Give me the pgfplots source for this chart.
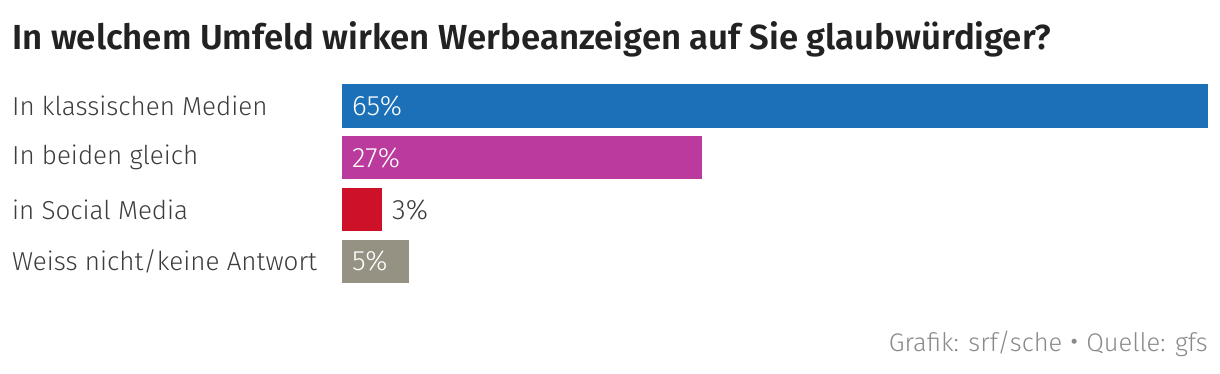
\documentclass[border=0pt]{standalone}
\usepackage{fontspec}
\setmainfont{Fira Sans}[UprightFont=* Light, BoldFont=* SemiBold]
\usepackage{pgfplots}
\pgfplotsset{compat=1.18}
\definecolor{cblue}{HTML}{1B70B7}
\definecolor{cmag}{HTML}{BB3A9D}
\definecolor{cred}{HTML}{CC1128}
\definecolor{cgray}{HTML}{959183}
\definecolor{ctext}{HTML}{3C3C3C}
\definecolor{cfoot}{HTML}{8A8A8A}
\definecolor{ctitle}{HTML}{222222}
\begin{document}
\begin{tikzpicture}[x=1pt,y=1pt]
\path[use as bounding box] (0,0) rectangle (1220,374);
\node[anchor=base west, inner sep=0, text=ctitle, font=\fontsize{34.8}{40}\selectfont\bfseries] at (12,324) {In welchem Umfeld wirken Werbeanzeigen auf Sie glaubwürdiger?};
\node[anchor=base east, inner sep=0, text=cfoot, font=\fontsize{25.5}{30}\selectfont] at (1208,22) {Grafik: srf/sche {\fontsize{34}{30}\selectfont\raisebox{-1.5pt}{•}} Quelle: gfs};
\begin{axis}[
  at={(342pt,86.7pt)}, anchor=south west,
  scale only axis, width=866pt, height=207.2pt,
  xmin=0, xmax=65, ymin=-0.5, ymax=3.5, y dir=reverse,
  xbar, bar width=43pt, bar shift=0pt,
  axis line style={draw=none}, major tick length=0pt,
  xtick=\empty, ytick={0,1,2,3},
  yticklabels={In klassischen Medien, In beiden gleich, in Social Media, Weiss nicht/keine Antwort},
  yticklabel style={anchor=west, inner sep=0pt, xshift=-330pt, text=ctext, font=\fontsize{26}{30}\selectfont},
  clip=false,
]
\addplot[fill=cblue, draw=none] coordinates {(65,0)};
\addplot[fill=cmag, draw=none] coordinates {(27,1)};
\addplot[fill=cred, draw=none] coordinates {(3,2)};
\addplot[fill=cgray, draw=none] coordinates {(5,3)};
\addplot[xbar=0pt, draw=none, fill=none, nodes near coords, point meta=explicit symbolic,
  every node near coord/.style={anchor=west, inner sep=0pt, xshift=10pt, text=white, font=\fontsize{28}{30}\selectfont}]
  coordinates {(0,0) [65\%] (0,1) [27\%] (0,3) [5\%]};
\addplot[xbar=0pt, draw=none, fill=none, nodes near coords, point meta=explicit symbolic,
  every node near coord/.style={anchor=west, inner sep=0pt, xshift=10pt, text=ctext, font=\fontsize{28}{30}\selectfont}]
  coordinates {(3,2) [3\%]};
\end{axis}
\end{tikzpicture}
\end{document}
